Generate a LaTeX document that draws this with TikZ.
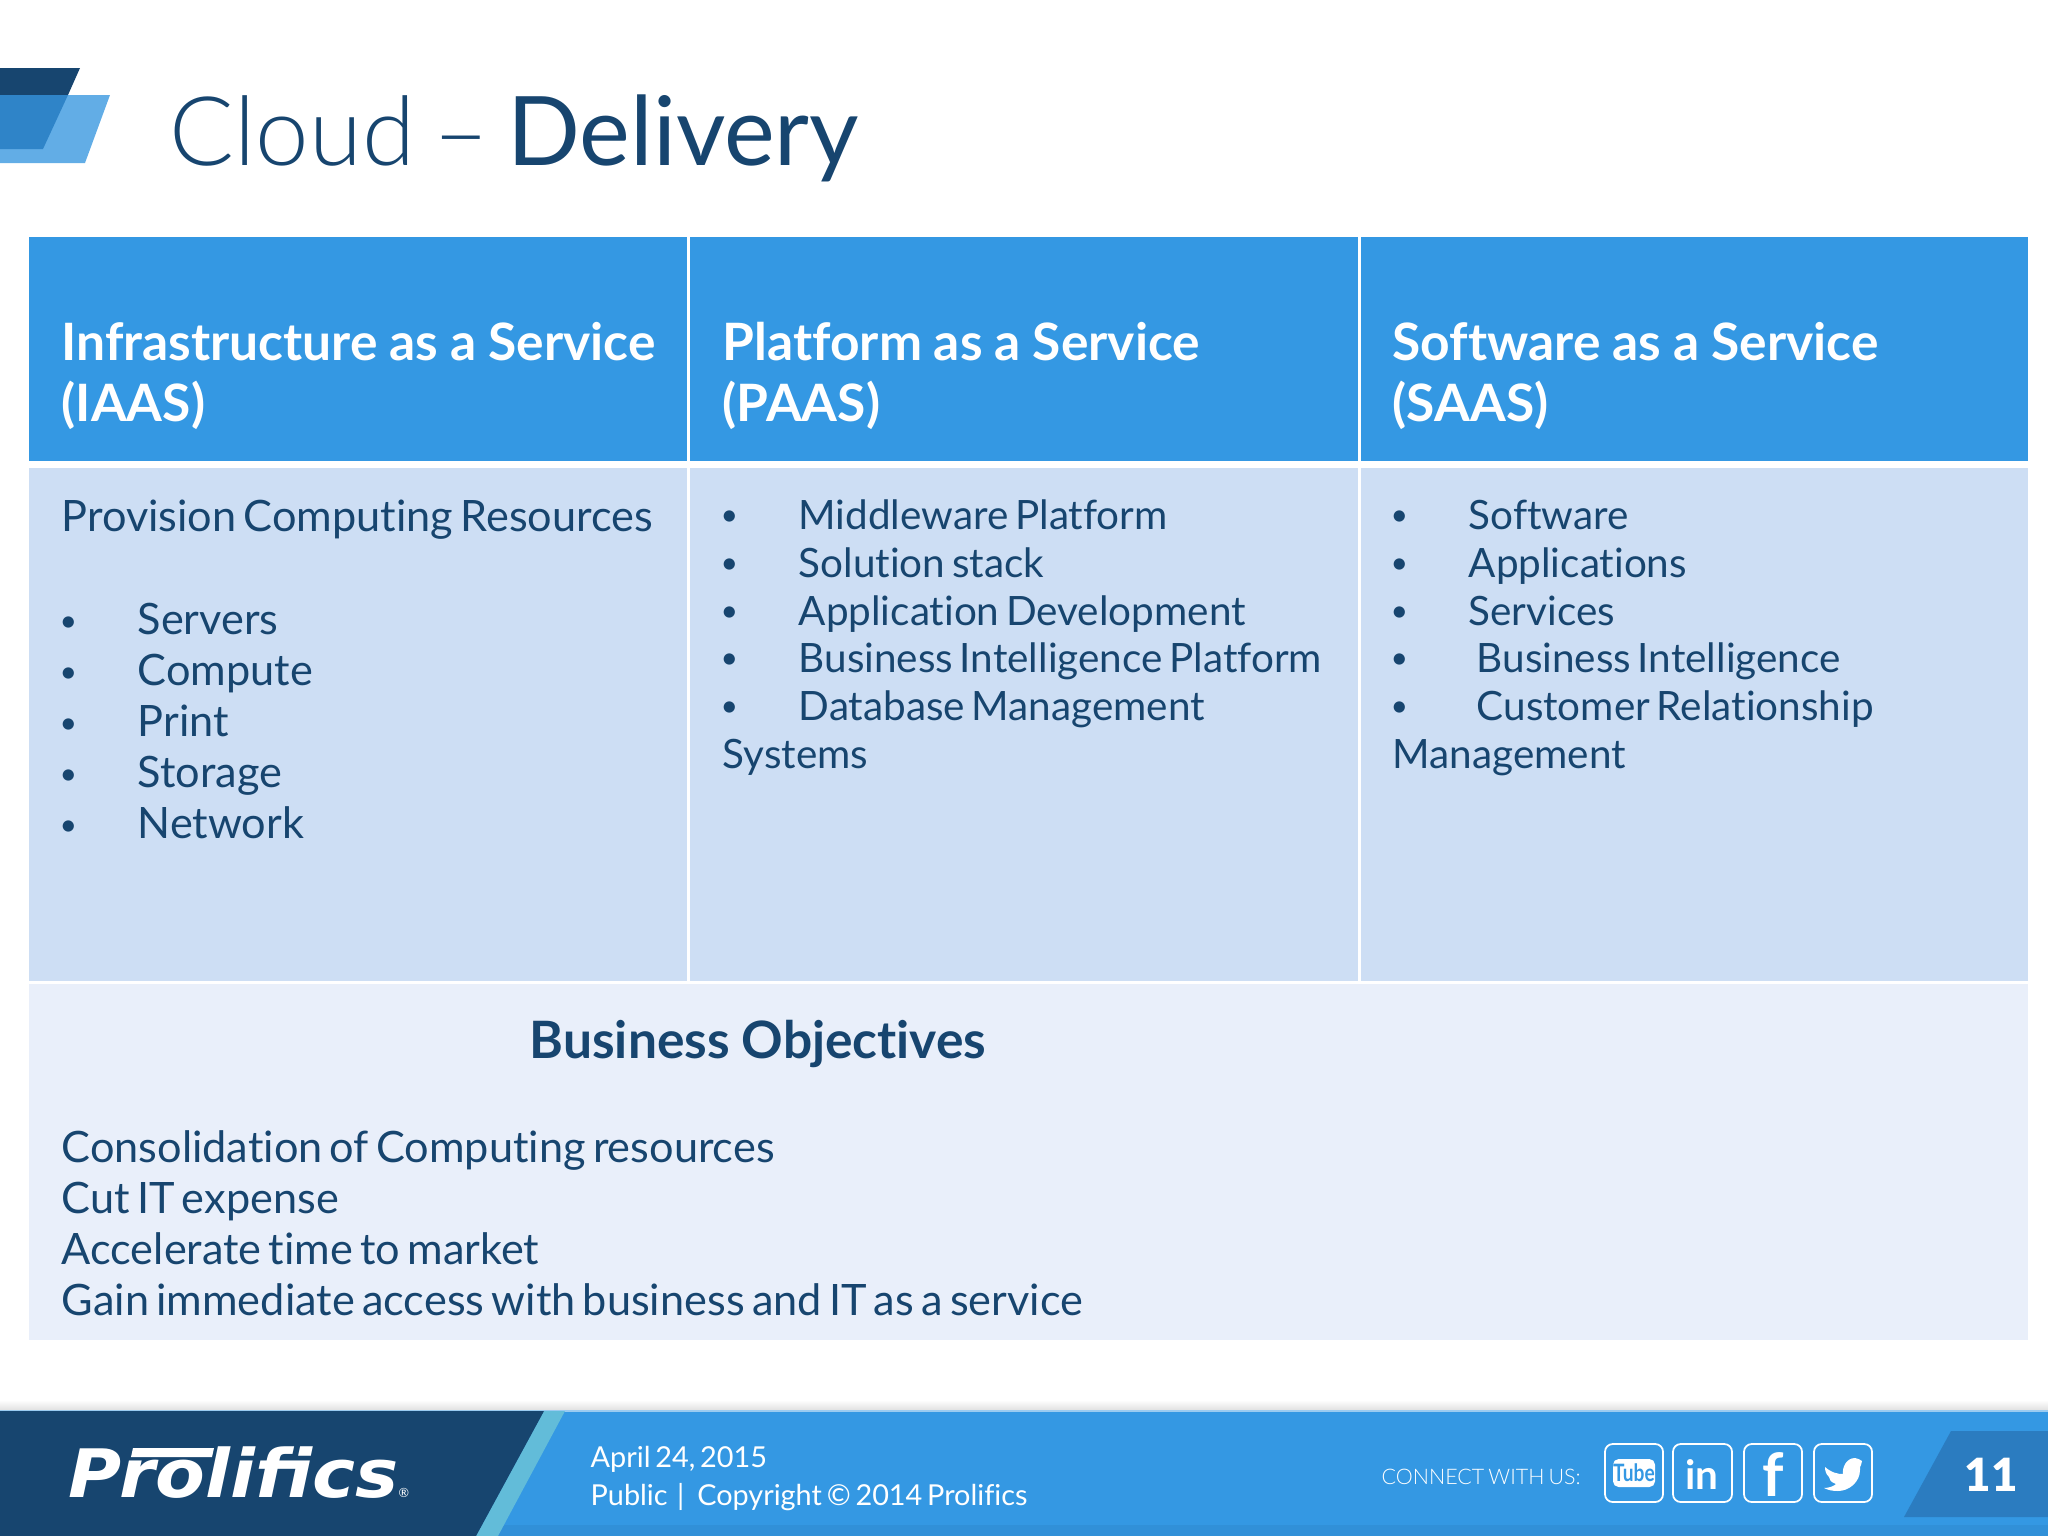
\documentclass[tikz,border=0pt]{standalone}
\usepackage{fontspec}
\setmainfont{Lato}[Ligatures=NoCommon,WordSpace=0.65]
\newfontfamily\headfont{Lato}[Ligatures=NoCommon,WordSpace=0.95]
\newfontfamily\lightfont{Lato Light}[WordSpace=0.7]
\newfontfamily\logofont{DejaVu Sans}
\definecolor{navy}{HTML}{17456F}
\definecolor{skyblue}{HTML}{3498E3}
\definecolor{paleblue}{HTML}{CDDEF4}
\definecolor{paleerblue}{HTML}{E9EFFA}
\definecolor{tabblue}{HTML}{2B7CC0}
\definecolor{midblue}{HTML}{2F84C8}
\definecolor{lightblue}{HTML}{62ADE6}
\definecolor{teal}{HTML}{62BCD9}
\tikzset{
  headtext/.style={anchor=base west,inner sep=0pt,text=white,font=\headfont\fontsize{14.65}{17}\selectfont\bfseries},
  bodytext/.style={anchor=base west,inner sep=0pt,text=navy,font=\fontsize{12.3}{14}\selectfont},
  listtext/.style={anchor=base west,inner sep=0pt,text=navy,font=\fontsize{11.5}{14}\selectfont},
  bullettext/.style={anchor=base west,inner sep=0pt,text=navy,font=\fontsize{8.6}{10}\selectfont},
  foottext/.style={anchor=base west,inner sep=0pt,text=white,font=\fontsize{8.2}{10}\selectfont},
  iconbox/.style={white,line width=0.5pt,rounded corners=2.2pt},
}
\begin{document}
\begin{tikzpicture}[x=0.01cm,y=-0.01cm]
  \useasboundingbox (0,0) rectangle (2048,1536);
  \fill[navy] (0,68) -- (80,68) -- (68,95) -- (0,95) -- cycle;
  \fill[lightblue] (0,95) -- (110,95) -- (85,163) -- (0,163) -- cycle;
  \fill[midblue] (0,95) -- (68,95) -- (43,149) -- (0,149) -- cycle;
  \node[anchor=base west,inner sep=0pt,text=navy,font=\fontsize{27.3}{30}\selectfont] (title) at (169,165) {{\lightfont Cloud – }Delivery};

  \fill[skyblue] (29,237) rectangle (687,461);
  \fill[skyblue] (690,237) rectangle (1358,461);
  \fill[skyblue] (1361,237) rectangle (2028,461);
  \fill[paleblue] (29,468) rectangle (687,981);
  \fill[paleblue] (690,468) rectangle (1358,981);
  \fill[paleblue] (1361,468) rectangle (2028,981);
  \fill[paleerblue] (29,984) rectangle (2028,1340);

  \node[headtext] (iaas) at (61,360) {Infrastructure as a Service};
  \node[headtext] (iaasb) at (61,421) {(IAAS)};
  \node[headtext] (paas) at (722,360) {Platform as a Service};
  \node[headtext] (paasb) at (722,421) {(PAAS)};
  \node[headtext] (saas) at (1392,360) {Software as a Service};
  \node[headtext] (saasb) at (1392,421) {(SAAS)};

  \node[bodytext] (prov) at (61,531) {Provision Computing Resources};
  \node[bullettext] (b1) at (59,631) {•};
  \node[bullettext] (b2) at (59,682) {•};
  \node[bullettext] (b3) at (59,733) {•};
  \node[bullettext] (b4) at (59,784) {•};
  \node[bullettext] (b5) at (59,835) {•};
  \node[bodytext] (servers) at (137,634) {Servers};
  \node[bodytext] (compute) at (137,685) {Compute};
  \node[bodytext] (print) at (137,736) {Print};
  \node[bodytext] (storage) at (137,787) {Storage};
  \node[bodytext] (network) at (137,838) {Network};

  \node[bullettext] (c1) at (720,525) {•};
  \node[bullettext] (c2) at (720,573) {•};
  \node[bullettext] (c3) at (720,621) {•};
  \node[bullettext] (c4) at (720,668) {•};
  \node[bullettext] (c5) at (720,716) {•};
  \node[listtext] (middle) at (798,529) {Middleware Platform};
  \node[listtext] (stack) at (798,577) {Solution stack};
  \node[listtext] (appdev) at (798,625) {Application Development};
  \node[listtext] (biplat) at (798,672) {Business Intelligence Platform};
  \node[listtext] (dbm) at (798,720) {Database Management};
  \node[listtext] (systems) at (722,768) {Systems};

  \node[bullettext] (d1) at (1390,525) {•};
  \node[bullettext] (d2) at (1390,573) {•};
  \node[bullettext] (d3) at (1390,621) {•};
  \node[bullettext] (d4) at (1390,668) {•};
  \node[bullettext] (d5) at (1390,716) {•};
  \node[listtext] (soft) at (1468,529) {Software};
  \node[listtext] (apps) at (1468,577) {Applications};
  \node[listtext] (serv) at (1468,625) {Services};
  \node[listtext] (bi) at (1476,672) {Business Intelligence};
  \node[listtext] (crm) at (1476,720) {Customer Relationship};
  \node[listtext] (mgmt) at (1392,768) {Management};

  \node[headtext,text=navy] (objectives) at (529,1058) {Business Objectives};
  \node[bodytext] (obj1) at (61,1162) {Consolidation of Computing resources};
  \node[bodytext] (obj2) at (61,1213) {Cut IT expense};
  \node[bodytext] (obj3) at (61,1264) {Accelerate time to market};
  \node[bodytext] (obj4) at (61,1315) {Gain immediate access with business and IT as a service};

  \shade[top color=white,bottom color=black!12] (0,1400) rectangle (2048,1410);
  \fill[skyblue] (0,1410) rectangle (2048,1536);
  \fill[skyblue!95!black] (0,1525) rectangle (2048,1536);
  \fill[skyblue!50!white] (0,1410) rectangle (2048,1412);
  \fill[teal] (544,1411) -- (565,1411) -- (498,1536) -- (476,1536) -- cycle;
  \fill[navy] (0,1411) -- (544,1411) -- (476,1536) -- (0,1536) -- cycle;
  \fill[tabblue] (1951,1431) -- (2048,1431) -- (2048,1517) -- (1904,1517) -- cycle;

  \node[anchor=base west,inner sep=0pt,text=white,xscale=1.085,font=\logofont\fontsize{19}{20}\selectfont\bfseries\itshape] (logo) at (68,1497) {Prolifics};
  \fill[white] (133,1448) -- (214,1448) -- (212,1457) -- (131,1457) -- cycle;
  \node[anchor=base west,inner sep=0pt,text=white,font=\fontsize{3.6}{4}\selectfont] (reg) at (398,1497) {®};

  \node[foottext] (date) at (590,1467) {April 24, 2015};
  \node[foottext] (copy) at (590,1505) {Public \,|\; Copyright © 2014 Prolifics};
  \node[foottext,font=\lightfont\fontsize{6.1}{8}\selectfont] (connect) at (1381,1484) {CONNECT WITH US:};

  \draw[iconbox] (1605,1444) rectangle (1663,1502);
  \draw[iconbox] (1673,1444) rectangle (1732,1502);
  \draw[iconbox] (1744,1444) rectangle (1802,1502);
  \draw[iconbox] (1814,1444) rectangle (1872,1502);
  \fill[white,rounded corners=1.6pt] (1613,1459) rectangle (1655,1487);
  \node[inner sep=0pt,text=skyblue,font=\fontsize{6.8}{8}\selectfont\bfseries,xscale=0.8] (tube) at (1634,1473) {Tube};
  \node[inner sep=0pt,text=white,font=\fontsize{11.5}{12}\selectfont\bfseries] (linked) at (1702,1474) {in};
  \node[inner sep=0pt,text=white,font=\fontsize{17}{18}\selectfont\bfseries] (face) at (1773,1474) {f};
  \fill[white] (1825,1467) .. controls (1832,1473) and (1838,1474) .. (1843,1474)
    .. controls (1842,1468) and (1846,1458) .. (1855,1458)
    .. controls (1858,1458) and (1860,1460) .. (1862,1461)
    -- (1861,1465) -- (1860,1467) -- (1860,1470)
    .. controls (1860,1482) and (1849,1491) .. (1838,1491)
    .. controls (1832,1491) and (1828,1490) .. (1824,1488)
    .. controls (1829,1488) and (1834,1486) .. (1836,1484)
    .. controls (1831,1482) and (1829,1480) .. (1829,1477)
    .. controls (1826,1474) and (1825,1471) .. (1825,1467) -- cycle;

  \node[inner sep=0pt,text=white,font=\fontspec{Lato Black}\fontsize{13}{14}\selectfont] (page) at (1991,1475) {11};
\end{tikzpicture}
\end{document}
